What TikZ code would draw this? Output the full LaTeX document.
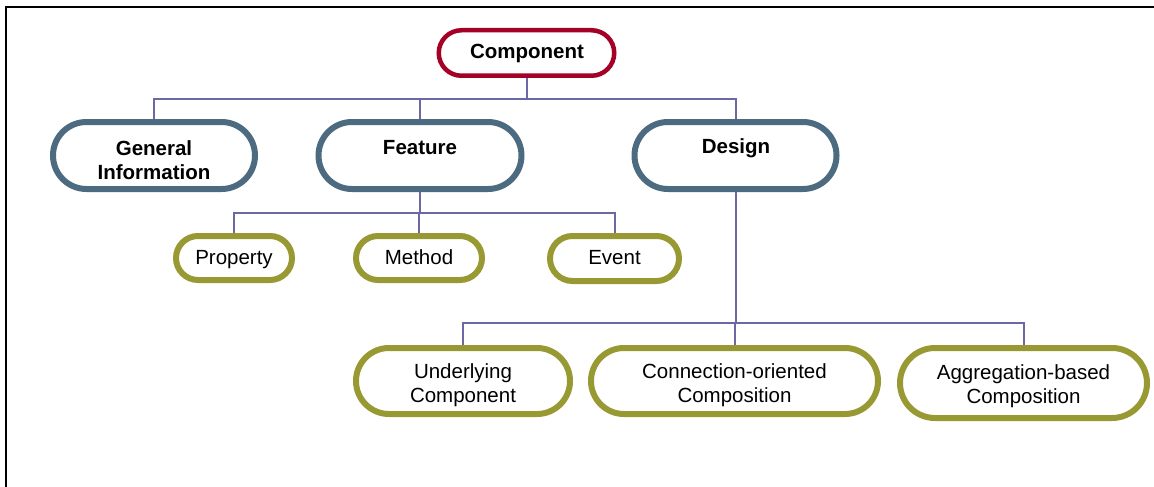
\documentclass[tikz,border=0pt]{standalone}
\usepackage{fontspec}
\setmainfont{Liberation Sans}
\usetikzlibrary{shapes.misc}
\definecolor{cred}{RGB}{165,0,38}
\definecolor{cslate}{RGB}{77,107,128}
\definecolor{colive}{RGB}{153,153,51}
\definecolor{cconn}{RGB}{108,104,163}
\tikzset{
  oval/.style={rounded rectangle, inner sep=0pt, fill=white},
  redoval/.style={oval, draw=cred, line width=4.5pt},
  slateoval/.style={oval, draw=cslate, line width=6pt},
  oliveoval/.style={oval, draw=colive, line width=6pt},
  lbl/.style={inner sep=0pt, align=center, font=\fontsize{20.5}{24.5}\selectfont},
  blbl/.style={lbl, font=\fontsize{20.5}{24.5}\selectfont\bfseries},
  conn/.style={draw=cconn, line width=2pt},
}
\begin{document}
\begin{tikzpicture}[x=1pt,y=-1pt]
\useasboundingbox (0,0) rectangle (1154,487);
\draw[line width=2pt] (1154,7) -- (6,7) -- (6,487);

% nodes
\node[redoval, minimum width=175.5pt, minimum height=45.5pt] (comp) at (526.5,53) {};
\node[slateoval, minimum width=202pt, minimum height=67pt] (gen) at (154,155.5) {};
\node[slateoval, minimum width=203pt, minimum height=67pt] (feat) at (420,155.5) {};
\node[slateoval, minimum width=202pt, minimum height=67pt] (des) at (735.5,155.5) {};
\node[oliveoval, minimum width=116pt, minimum height=44pt] (prop) at (234,258) {};
\node[oliveoval, minimum width=126pt, minimum height=44pt] (meth) at (419,258) {};
\node[oliveoval, minimum width=129pt, minimum height=45pt] (evt) at (614.5,258.5) {};
\node[oliveoval, minimum width=214pt, minimum height=66pt] (und) at (463,381) {};
\node[oliveoval, minimum width=287pt, minimum height=66pt] (con) at (734.5,381) {};
\node[oliveoval, minimum width=247pt, minimum height=70pt] (agg) at (1023.5,383) {};

% labels
\node[blbl] at (527,53) {Component};
\node[blbl] at (154,160) {General\\Information};
\node[blbl] at (420,148) {Feature};
\node[blbl] at (736,148) {Design};
\node[lbl, text height=14.7pt, text depth=0pt] at (234,257) {Property};
\node[lbl, text height=14.7pt, text depth=0pt] at (419,257) {Method};
\node[lbl, text height=14.7pt, text depth=0pt] at (614.5,257) {Event};
\node[lbl] at (463,385) {Underlying\\Component};
\node[lbl] at (734.5,385) {Connection-oriented\\Composition};
\node[lbl] at (1023.5,386) {Aggregation-based\\Composition};

% connectors
\coordinate (b1) at (526.5,98.5);
\coordinate (b2) at (420,213);
\coordinate (b3) at (735.5,323);
\draw[conn] (comp.south) -- (b1);
\draw[conn] (gen.north) |- (b1) -| (des.north);
\draw[conn] (feat.north) -- (feat.north |- b1);
\draw[conn] (feat.south) -- (b2);
\draw[conn] (prop.north) |- (b2) -| (evt.north);
\draw[conn] (meth.north) -- (meth.north |- b2);
\draw[conn] (des.south) -- (b3);
\draw[conn] (und.north) |- (b3) -| (agg.north);
\draw[conn] (con.north) -- (con.north |- b3);
\end{tikzpicture}
\end{document}
